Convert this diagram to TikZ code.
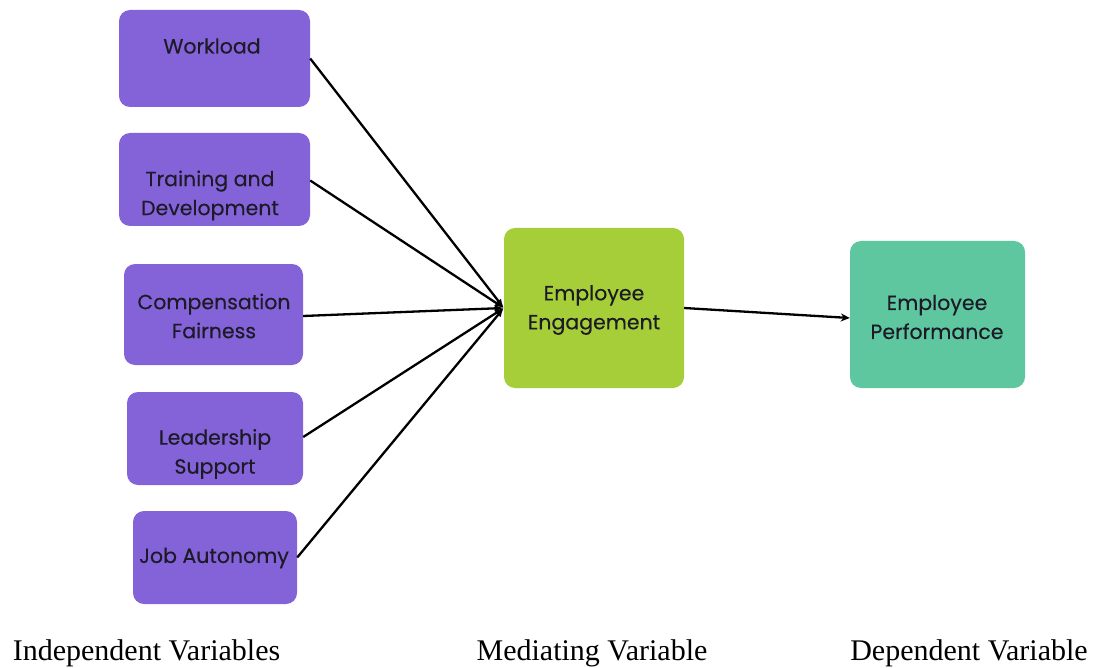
\documentclass[tikz,border=0pt]{standalone}
\usepackage{fontspec}
\setmainfont{Liberation Serif}
\newfontfamily\boxfont{Poppins}[FakeBold=0.25]
\usetikzlibrary{arrows.meta}
\definecolor{ivbox}{HTML}{8463D9}
\definecolor{mvbox}{HTML}{A6CE39}
\definecolor{dvbox}{HTML}{5EC79F}
\definecolor{ink}{HTML}{1C1A26}
\tikzset{
  varbox/.style={draw=none, rounded corners=11pt, inner sep=0pt},
  boxtext/.style={font=\boxfont\fontsize{20.5}{29}\selectfont, text=ink, align=center, inner sep=0pt},
  link/.style={line width=2.3pt, draw=black},
  caption/.style={font=\fontsize{30}{34}\selectfont, anchor=base, inner sep=0pt}
}
\begin{document}
\begin{tikzpicture}[x=1pt, y=-1pt]
\useasboundingbox (0,0) rectangle (1094,668);
\fill[white] (0,0) rectangle (1094,668);

% independent variables
\node[varbox, fill=ivbox, minimum width=191pt, minimum height=97pt] (wl) at (214.5,58.5) {};
\node[varbox, fill=ivbox, minimum width=191pt, minimum height=93pt] (td) at (214.5,179.5) {};
\node[varbox, fill=ivbox, minimum width=179pt, minimum height=101pt] (cf) at (213.5,314.5) {};
\node[varbox, fill=ivbox, minimum width=176pt, minimum height=93pt] (ls) at (215,438.5) {};
\node[varbox, fill=ivbox, minimum width=164pt, minimum height=93pt] (ja) at (215,557.5) {};

% mediating and dependent variables
\node[varbox, fill=mvbox, minimum width=180pt, minimum height=160pt] (ee) at (594,308) {};
\node[varbox, fill=dvbox, minimum width=175pt, minimum height=147pt] (ep) at (937.5,314.5) {};

% box labels
\node[boxtext] (wlt) at (212,46) {Workload};
\node[boxtext] (tdt) at (210,195.5) {Training and\\Development};
\node[boxtext] (cft) at (214,316) {Compensation\\Fairness};
\node[boxtext] (lst) at (215,454) {Leadership\\Support};
\node[boxtext] (jat) at (214,558) {Job Autonomy};
\node[boxtext] (eet) at (594,310) {Employee\\Engagement};
\node[boxtext] (ept) at (937,317) {Employee\\Performance};

% connectors
\draw[link, -{Latex[length=9pt,width=7pt]}] (wl.east) -- (ee.west);
\draw[link, -{Latex[length=9pt,width=7pt]}] ([yshift=-1pt]td.east) -- (ee.west);
\draw[link, -{Latex[length=9pt,width=7pt]}] ([yshift=-1.5pt]cf.east) -- (ee.west);
\draw[link, -{Latex[length=9pt,width=7pt]}] ([yshift=1.5pt]ls.east) -- (ee.west);
\draw[link, -{Latex[length=9pt,width=7pt]}] (ja.east) -- (ee.west);
\draw[link, -{Stealth[length=9pt,width=8pt]}] (ee.east) -- ([yshift=-3.5pt]ep.west);

% column captions
\node[caption] (c1) at (146.5,660) {Independent Variables};
\node[caption] (c2) at (592,660) {Mediating Variable};
\node[caption] (c3) at (969,660) {Dependent Variable};
\end{tikzpicture}
\end{document}
